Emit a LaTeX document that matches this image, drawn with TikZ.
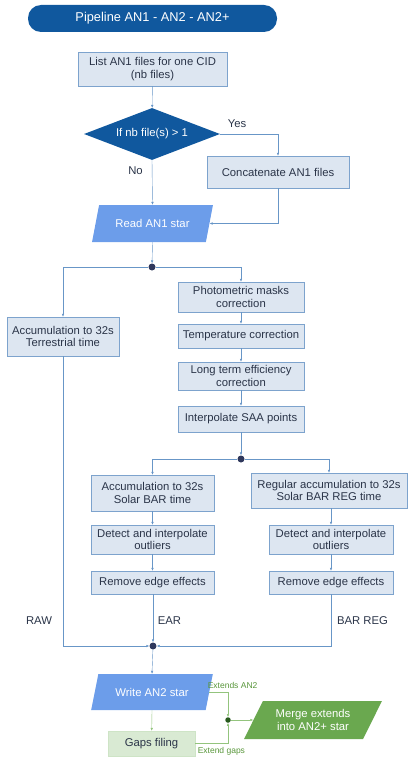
\documentclass[tikz,border=0pt]{standalone}
\usepackage{fontspec}
\setmainfont{Liberation Sans}
\usetikzlibrary{arrows.meta,shapes.geometric}
\definecolor{ttlblue}{RGB}{16,88,158}
\definecolor{boxfill}{RGB}{221,230,241}
\definecolor{boxline}{RGB}{125,163,205}
\definecolor{lnblue}{RGB}{104,150,199}
\definecolor{iofill}{RGB}{108,157,234}
\definecolor{dotc}{RGB}{47,56,92}
\definecolor{txt}{RGB}{42,52,72}
\definecolor{grfill}{RGB}{106,168,79}
\definecolor{gapfill}{RGB}{217,234,211}
\definecolor{grln}{RGB}{147,196,125}
\definecolor{grtxt}{RGB}{88,150,58}
\definecolor{grdot}{RGB}{40,90,30}

\begin{document}
\begin{tikzpicture}[x=1pt,y=-1pt,font=\fontsize{11.3}{12.8}\selectfont,
  b/.style={draw=boxline,fill=boxfill,text=txt,align=center,inner sep=1pt},
  io/.style={trapezium,trapezium stretches=true,trapezium left angle=64,trapezium right angle=116,
    fill=iofill,text=white,align=center,inner sep=1pt},
  dot/.style={circle,fill=dotc,inner sep=0pt,minimum size=7pt},
  ln/.style={draw=lnblue,-{Latex[length=3pt,width=2.5pt]}},
  gl/.style={draw=grln,-{Latex[length=3pt,width=2.5pt]}},
  lbl/.style={text=txt},
  sm/.style={text=grtxt,font=\fontsize{8.5}{9}\selectfont}]
\useasboundingbox (0,0) rectangle (408,765);
% ---- title ----
\node[fill=ttlblue,text=white,rounded corners=13pt,minimum width=249,minimum height=27,
  font=\fontsize{12.8}{14}\selectfont] (ttl) at (152.5,18.5) {Pipeline AN1 - AN2 - AN2+};
% ---- AN1 input ----
\node[b,minimum width=149,minimum height=34] (list) at (152.5,69) {List AN1 files for one CID\\(nb files)};
\node[diamond,aspect=2.6,fill=ttlblue,text=white,inner sep=0pt,minimum width=136,minimum height=52] (dec) at (152,134) {If nb file(s) > 1};
\node[b,minimum width=142,minimum height=32] (cat) at (278,172) {Concatenate AN1 files};
\node[io,minimum width=121,minimum height=37] (read) at (152.5,223.5) {Read AN1 star};
\node[dot] (d1) at (152,267) {};
\draw[ln] (list) -- (dec);
\draw[ln] (dec.east) -| (cat.north);
\draw[ln] (dec.south) -- (read.north);
\draw[ln] (cat.south) |- (read.east);
\draw[ln] (read.south) -- (d1);
\node[lbl] at (237,124) {Yes};
\node[lbl] at (135.5,171) {No};
% ---- corrections ----
\node[b,minimum width=112,minimum height=39] (acc) at (63,336.5) {Accumulation to 32s\\Terrestrial time};
\node[b,minimum width=126,minimum height=30] (pho) at (241,297) {Photometric masks\\correction};
\node[b,minimum width=126,minimum height=24] (tem) at (241,336) {Temperature correction};
\node[b,minimum width=126,minimum height=28] (lte) at (241,376) {Long term efficiency\\correction};
\node[b,minimum width=126,minimum height=26] (saa) at (241,419) {Interpolate SAA points};
\node[dot] (d2) at (241,459) {};
\draw[ln] (d1) -| (acc.north);
\draw[ln] (d1) -| (pho.north);
\draw[ln] (pho) -- (tem);
\draw[ln] (tem) -- (lte);
\draw[ln] (lte) -- (saa);
\draw[ln] (saa) -- (d2);
% ---- BAR / BAR REG branches ----
\node[b,minimum width=123,minimum height=36] (bar) at (152.5,493) {Accumulation to 32s\\Solar BAR time};
\node[b,minimum width=156,minimum height=35] (reg) at (329,490.5) {Regular accumulation to 32s\\Solar BAR REG time};
\node[b,minimum width=123,minimum height=29] (detl) at (152.5,539.5) {Detect and interpolate\\outliers};
\node[b,minimum width=124,minimum height=29] (detr) at (331,539.5) {Detect and interpolate\\outliers};
\node[b,minimum width=123,minimum height=23] (reml) at (152.5,582.5) {Remove edge effects};
\node[b,minimum width=124,minimum height=23] (remr) at (331,582.5) {Remove edge effects};
\node[dot] (d3) at (153,646) {};
\draw[ln] (d2) -| (bar.north);
\draw[ln] (d2) -| (reg.north);
\draw[ln] (bar) -- (detl);
\draw[ln] (detl) -- (reml);
\draw[ln] (reg.south-|detr) -- (detr);
\draw[ln] (detr) -- (remr);
\draw[ln] (reml.south-|d3) -- (d3);
\draw[ln] (remr.south) |- (d3);
\draw[ln] (acc.south) |- (d3);
\node[lbl] at (39,621) {RAW};
\node[lbl] at (169.5,621) {EAR};
\node[lbl] at (362.5,621) {BAR REG};
% ---- AN2 / AN2+ output ----
\node[io,minimum width=122,minimum height=36] (write) at (152,692) {Write AN2 star};
\node[fill=gapfill,draw=gapfill!85!grln,text=txt,minimum width=87,minimum height=25] (gap) at (151.5,743.5) {Gaps filing};
\node[circle,fill=grdot,inner sep=0pt,minimum size=5.5pt] (d4) at (228,720) {};
\node[io,trapezium left angle=58,trapezium right angle=122,fill=grfill,minimum width=138,minimum height=38] (mrg) at (313,720) {Merge extends\\into AN2+ star};
\draw[ln] (d3) -- (write.north);
\draw[gl] (write.south) -- (gap);
\draw[gl] (write.east) -| node[pos=0.3,above,sm,xshift=12pt] {Extends AN2} (d4);
\draw[gl] (gap.east) -| node[pos=0.3,below,sm,xshift=6.5pt] {Extend gaps} (d4);
\draw[gl] (d4) -- (mrg);
\end{tikzpicture}
\end{document}
